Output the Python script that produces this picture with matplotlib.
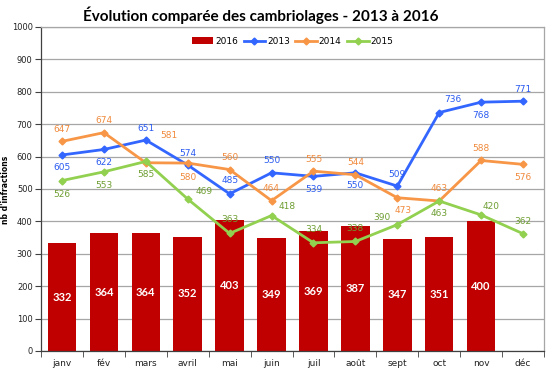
import matplotlib
matplotlib.use("Agg")
import matplotlib.pyplot as plt
import numpy as np

months = ["janv", "fév", "mars", "avril", "mai", "juin", "juil", "août", "sept", "oct", "nov", "déc"]
v2016 = [332, 364, 364, 352, 403, 349, 369, 387, 347, 351, 400]
v2013 = [605, 622, 651, 574, 485, 550, 539, 550, 509, 736, 768, 771]
v2014 = [647, 674, 581, 580, 560, 464, 555, 544, 473, 463, 588, 576]
v2015 = [526, 553, 585, 469, 363, 418, 334, 338, 390, 463, 420, 362]
yticks = [0, 100, 200, 300, 400, 500, 600, 700, 800, 900, 1000]

# label offsets in pixels (dx, dy)
off2013 = [(0, -13), (0, -13), (0, 12), (0, 12), (0, 13), (0, 12), (0, -13), (0, -13), (0, 12), (14, 13), (0, -13), (0, 12)]
off2014 = [(0, 12), (0, 12), (23, 27), (0, -14), (0, 12), (0, 12), (0, 12), (0, 12), (6, -13), (0, 12), (0, 12), (0, -13)]
off2015 = [(0, -14), (0, -14), (0, -13), (16, 8), (0, 14), (16, 9), (0, 13), (0, 13), (-15, 7), (0, -13), (10, 8), (0, 12)]

fig = plt.figure(figsize=(5.5, 3.71), dpi=100)
ax = fig.add_axes([41 / 550, 20 / 371, 503 / 550, 324 / 371])

x = np.arange(len(months))
xb = np.arange(len(v2016))

ax.set_xlim(-0.5, len(months) - 0.5)
ax.set_ylim(0, 1000)
ax.set_yticks(yticks)
ax.set_yticklabels([str(t) for t in yticks], fontsize=6, color="#222222")
ax.yaxis.grid(True, color="#A6A6A6", linewidth=0.9)
ax.set_axisbelow(True)

hb = ax.bar(xb, v2016, width=0.68, color="#C00000", label="2016", zorder=2)
h13, = ax.plot(x, v2013, color="#3366FF", lw=2.0, marker="D", ms=3.5, label="2013", zorder=3)
h14, = ax.plot(x, v2014, color="#F79646", lw=2.0, marker="D", ms=3.5, label="2014", zorder=3)
h15, = ax.plot(x, v2015, color="#92D050", lw=2.0, marker="D", ms=3.5, label="2015", zorder=3)

for xi, v in zip(xb, v2016):
    ax.text(xi, v / 2, str(v), ha="center", va="center", color="white",
            fontsize=8, fontweight="bold", family="Lato", zorder=4)

def labels(vals, offs, col):
    for xi, v, (dx, dy) in zip(x, vals, offs):
        ax.annotate(str(v), (xi, v), xytext=(dx, dy), textcoords="offset pixels",
                    ha="center", va="center", fontsize=6.5, color=col, zorder=5)

labels(v2013, off2013, "#2A5BF0")
labels(v2014, off2014, "#F08A3C")
labels(v2015, off2015, "#6E9E32")

ax.set_xticks(x)
ax.set_xticklabels(months, fontsize=6.5, color="#222222")
ax.set_xticks(np.arange(-0.5, len(months), 1), minor=True)
ax.tick_params(axis="x", which="major", length=0, pad=6)
ax.tick_params(axis="x", which="minor", length=4, color="#404040")
ax.tick_params(axis="y", length=4, color="#404040", pad=2)

for s in ["top", "right"]:
    ax.spines[s].set_color("#A6A6A6")
    ax.spines[s].set_linewidth(0.9)
for s in ["left", "bottom"]:
    ax.spines[s].set_color("#404040")
    ax.spines[s].set_linewidth(0.9)

fig.text(6 / 550, 1 - 190 / 371, "nb d'infractions", rotation=90, ha="center", va="center",
         fontsize=5.5, fontweight="bold")

ax.legend([hb, h13, h14, h15], ["2016", "2013", "2014", "2015"],
          loc="upper center", bbox_to_anchor=(0.5, 0.995), ncol=4, frameon=False,
          fontsize=6.5, handlelength=2.4, handletextpad=0.2, columnspacing=0.6)

fig.text(261 / 550, 1 - 15 / 371, "Évolution comparée des cambriolages - 2013 à 2016",
         ha="center", va="center", fontsize=11, fontweight="bold", family="Lato")

fig.savefig("out.png", dpi=100)
